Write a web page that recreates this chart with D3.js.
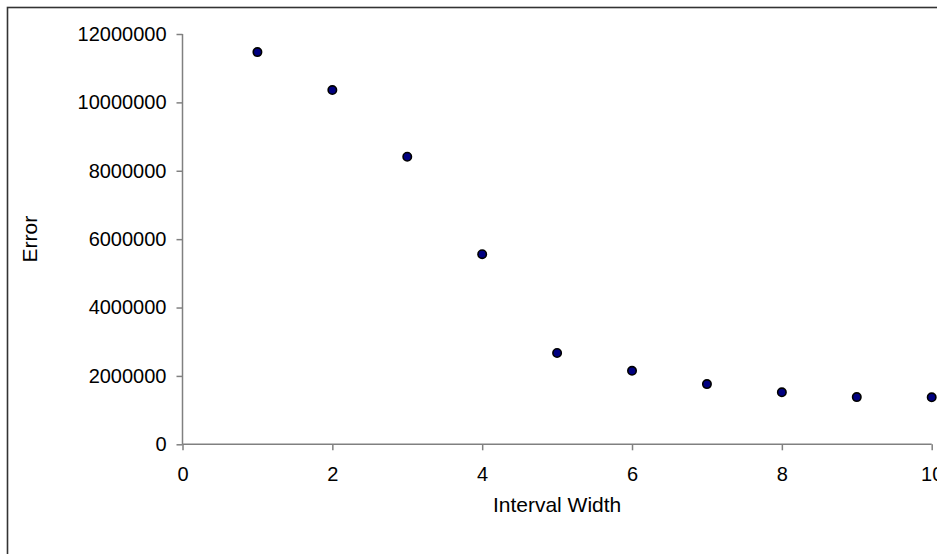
<!DOCTYPE html>
<html>
<head>
<meta charset="utf-8">
<script src="https://cdn.jsdelivr.net/npm/d3@7"></script>
<style>
  html, body { margin: 0; padding: 0; background: #fff; }
  svg { display: block; font-family: "Liberation Sans", Arial, sans-serif; }
</style>
</head>
<body>
<svg id="chart" width="937" height="554"></svg>
<script>
const intervalWidths = [1, 2, 3, 4, 5, 6, 7, 8, 9, 10];
const errorValues = [11470000, 10360000, 8410000, 5560000, 2670000, 2150000, 1760000, 1520000, 1380000, 1375000];
const xTickValues = [0, 2, 4, 6, 8, 10];
const yTickValues = [0, 2000000, 4000000, 6000000, 8000000, 10000000, 12000000];
const xTitle = "Interval Width";
const yTitle = "Error";

const svg = d3.select("#chart");
const W = 937, H = 554;

// outer chart border
svg.append("rect")
  .attr("x", 7.5).attr("y", 7.5)
  .attr("width", W + 20).attr("height", H + 20)
  .attr("fill", "none").attr("stroke", "#333").attr("stroke-width", 1.6);

const plotLeft = 182.5, plotRight = 931.7, plotTop = 34, plotBottom = 444.3;
const x = d3.scaleLinear().domain([0, 10]).range([plotLeft, plotRight]);
const y = d3.scaleLinear().domain([0, 12000000]).range([plotBottom, plotTop]);

const axisColor = "#808080";

const xAxis = svg.append("g")
  .attr("transform", `translate(0,${plotBottom})`)
  .call(d3.axisBottom(x).tickValues(xTickValues).tickSize(6).tickPadding(17).tickFormat(d3.format("d")));
const yAxis = svg.append("g")
  .attr("transform", `translate(${plotLeft},0)`)
  .call(d3.axisLeft(y).tickValues(yTickValues).tickSize(6).tickPadding(10).tickFormat(d3.format("d")));

[xAxis, yAxis].forEach(g => {
  g.select(".domain").attr("stroke", axisColor).attr("stroke-width", 1.5);
  g.selectAll(".tick line").attr("stroke", axisColor).attr("stroke-width", 1.5);
  g.selectAll(".tick text").attr("fill", "#000").style("font-size", "20px")
    .style("font-family", "'Liberation Sans', Arial, sans-serif");
});
// remove the outer tick-end of axis domain paths (draw plain lines)
xAxis.select(".domain").attr("d", `M${plotLeft},0H${plotRight}`);
yAxis.select(".domain").attr("d", `M0,${plotBottom}V${plotTop}`);

svg.append("text")
  .attr("x", (plotLeft + plotRight) / 2).attr("y", 512)
  .attr("text-anchor", "middle")
  .style("font-size", "21px").attr("fill", "#000")
  .text(xTitle);

svg.append("text")
  .attr("transform", `translate(37,${(plotTop + plotBottom) / 2}) rotate(-90)`)
  .attr("text-anchor", "middle")
  .style("font-size", "21px").attr("fill", "#000")
  .text(yTitle);

svg.append("g").selectAll("circle")
  .data(intervalWidths.map((w, i) => ({ w, e: errorValues[i] })))
  .join("circle")
  .attr("cx", d => x(d.w))
  .attr("cy", d => y(d.e))
  .attr("r", 4.2)
  .attr("fill", "#000080")
  .attr("stroke", "#000")
  .attr("stroke-width", 1.6);
</script>
</body>
</html>
